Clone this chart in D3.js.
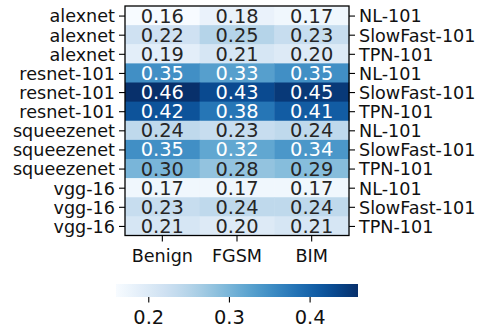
<!DOCTYPE html>
<html lang="en">
<head>
<meta charset="UTF-8">
<script src="https://d3js.org/d3.v7.min.js"></script>
<style>
  body { margin: 0; background: #fff; }
  text { font-family: 'DejaVu Sans', sans-serif; }
</style>
</head>
<body>
<svg width="483" height="333"></svg>
<script>
  const models = ["alexnet", "alexnet", "alexnet", "resnet-101", "resnet-101", "resnet-101",
                  "squeezenet", "squeezenet", "squeezenet", "vgg-16", "vgg-16", "vgg-16"];
  const targets = ["NL-101", "SlowFast-101", "TPN-101", "NL-101", "SlowFast-101", "TPN-101",
                   "NL-101", "SlowFast-101", "TPN-101", "NL-101", "SlowFast-101", "TPN-101"];
  const attacks = ["Benign", "FGSM", "BIM"];
  const benign = [0.16, 0.22, 0.19, 0.35, 0.46, 0.42, 0.24, 0.35, 0.30, 0.17, 0.23, 0.21];
  const fgsm   = [0.18, 0.25, 0.21, 0.33, 0.43, 0.38, 0.23, 0.32, 0.28, 0.17, 0.24, 0.20];
  const bim    = [0.17, 0.23, 0.20, 0.35, 0.45, 0.41, 0.24, 0.34, 0.29, 0.17, 0.24, 0.21];
  const cbarTicks = [0.2, 0.3, 0.4];

  const series = [benign, fgsm, bim];
  const cells = [];
  models.forEach((m, r) => attacks.forEach((a, c) => cells.push({r, c, v: series[c][r]})));

  const svg = d3.select("svg");
  const mLeft = 125, mRight = 349, mTop = 6, mBottom = 235.5;
  const rows = d3.range(models.length);

  const x = d3.scaleBand().domain(attacks).range([mLeft, mRight]);
  const y = d3.scaleBand().domain(rows).range([mTop, mBottom]);
  const vmin = 0.16, vmax = 0.46;
  const color = d3.scaleSequential(d3.interpolateBlues).domain([vmin, vmax]);

  svg.append("g").selectAll("rect")
    .data(cells).enter().append("rect")
    .attr("x", d => x(attacks[d.c]))
    .attr("y", d => y(d.r))
    .attr("width", x.bandwidth() + 0.5)
    .attr("height", y.bandwidth() + 0.5)
    .attr("fill", d => color(d.v));

  svg.append("g").selectAll("text")
    .data(cells).enter().append("text")
    .attr("x", d => x(attacks[d.c]) + x.bandwidth() / 2)
    .attr("y", d => y(d.r) + y.bandwidth() / 2 + 7)
    .attr("text-anchor", "middle")
    .style("font-size", "19.4px")
    .attr("fill", d => d.v > 0.31 ? "#ffffff" : "#262626")
    .text(d => d.v.toFixed(2));

  // frame
  svg.append("rect")
    .attr("x", mLeft).attr("y", mTop)
    .attr("width", mRight - mLeft).attr("height", mBottom - mTop)
    .attr("fill", "none").attr("stroke", "#000").attr("stroke-width", 1.3);

  const yl = d3.scalePoint().domain(rows).range([mTop + y.bandwidth() / 2, mBottom - y.bandwidth() / 2]);

  const axL = svg.append("g").attr("transform", `translate(${mLeft},0)`)
    .call(d3.axisLeft(yl).tickSize(6).tickPadding(4).tickFormat(i => models[i]));
  const axR = svg.append("g").attr("transform", `translate(${mRight},0)`)
    .call(d3.axisRight(yl).tickSize(6).tickPadding(4).tickFormat(i => targets[i]));
  const axB = svg.append("g").attr("transform", `translate(0,${mBottom})`)
    .call(d3.axisBottom(x).tickSize(6).tickPadding(8));

  [axL, axR, axB].forEach(a => {
    a.select(".domain").remove();
    a.selectAll("line").attr("stroke", "#000").attr("stroke-width", 1.1);
    a.selectAll("text").style("font-size", "17.6px").attr("fill", "#111");
  });
  axL.selectAll("text").attr("dy", "0.36em");
  axR.selectAll("text").attr("dy", "0.36em");

  // colorbar
  const cbL = 116, cbR = 358, cbT = 284, cbB = 297;
  const cx = d3.scaleLinear().domain([vmin, vmax]).range([cbL, cbR]);
  const grad = svg.append("defs").append("linearGradient").attr("id", "cb");
  d3.range(0, 1.0001, 0.05).forEach(t => {
    grad.append("stop").attr("offset", t).attr("stop-color", d3.interpolateBlues(t));
  });
  svg.append("rect")
    .attr("x", cbL).attr("y", cbT).attr("width", cbR - cbL).attr("height", cbB - cbT)
    .attr("fill", "url(#cb)");
  const axC = svg.append("g").attr("transform", `translate(0,${cbB})`)
    .call(d3.axisBottom(cx).tickValues(cbarTicks).tickSize(5.5).tickPadding(8).tickFormat(d3.format(".1f")));
  axC.select(".domain").remove();
  axC.selectAll("line").attr("stroke", "#000").attr("stroke-width", 1.1);
  axC.selectAll("text").style("font-size", "19.4px").attr("fill", "#111");
</script>
</body>
</html>
